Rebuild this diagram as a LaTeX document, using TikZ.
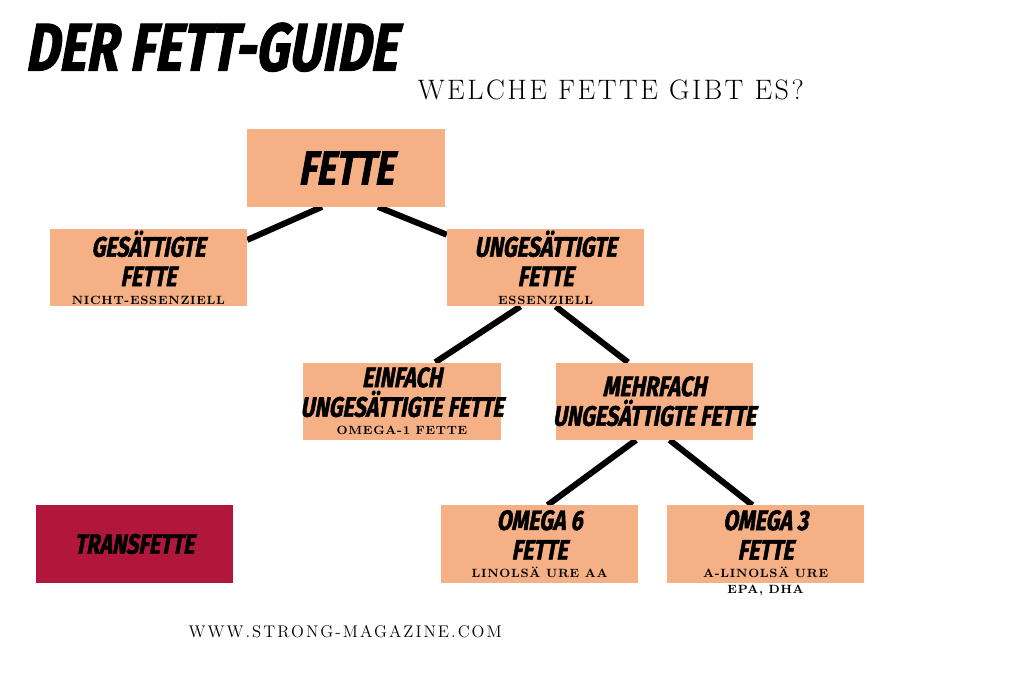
\documentclass[tikz,border=0pt]{standalone}
\usepackage{fontspec}
\usetikzlibrary{backgrounds}
\newfontfamily\comicfont[FakeStretch=0.76, FakeSlant=0.18, FakeBold=1.6]{Fira Sans}
\newfontfamily\spacedfont[LetterSpace=9]{Latin Modern Roman}
\newfontfamily\subfont[LetterSpace=6]{Latin Modern Roman}
\newfontfamily\urlfont[LetterSpace=12]{Latin Modern Roman}
\newcommand\subtxt[1]{{\subfont\bfseries\upshape\fontsize{8.5}{9}\selectfont #1}}
\newcommand\wideline[1]{\makebox[4.9cm]{#1}}
\definecolor{peach}{HTML}{F5B085}
\definecolor{wine}{HTML}{B0173A}
\begin{document}
\begin{tikzpicture}[
    fettbox/.style={fill=peach, minimum width=4.93cm, minimum height=1.93cm, align=center, inner sep=0pt, font=\comicfont\bfseries\fontsize{20}{21}\selectfont},
    link/.style={line width=4.3pt, black}
]
\useasboundingbox (0,0) rectangle (25.6,-16.9);
% Titel
\node[anchor=west, inner sep=0pt, font=\comicfont\bfseries\fontsize{48}{50}\selectfont] (title) at (0.62,-1.18) {DER FETT-GUIDE};
\node[inner sep=0pt, font=\spacedfont\fontsize{20}{22}\selectfont] (subtitle) at (15.27,-2.25) {WELCHE FETTE GIBT ES?};

% Baum
\node[fettbox, font=\comicfont\bfseries\fontsize{34}{36}\selectfont] (fette) at (8.65,-4.2) {FETTE};
\node[fettbox] (gesaettigt) at (3.71,-6.69) {GESÄTTIGTE\\FETTE\\[-8pt]\subtxt{NICHT-ESSENZIELL}};
\node[fettbox] (ungesaettigt) at (13.64,-6.69) {UNGESÄTTIGTE\\FETTE\\[-8pt]\subtxt{ESSENZIELL}};
\node[fettbox] (einfach) at (10.05,-10.03) {EINFACH\\\wideline{UNGESÄTTIGTE FETTE}\\[-8pt]\subtxt{OMEGA-1 FETTE}};
\node[fettbox] (mehrfach) at (16.36,-10.03) {MEHRFACH\\\wideline{UNGESÄTTIGTE FETTE}};
\node[fettbox] (omega6) at (13.49,-13.6) {OMEGA 6\\FETTE\\[-8pt]\subtxt{LINOLSÄ URE AA}};
\node[fettbox] (omega3) at (19.14,-13.6) {OMEGA 3\\FETTE\\[-8pt]{\subfont\bfseries\upshape\fontsize{8.5}{11}\selectfont\smash{\begin{tabular}[t]{@{}c@{}}A-LINOLSÄ URE\\EPA, DHA\end{tabular}}}};
\node[fettbox, fill=wine] (trans) at (3.36,-13.6) {TRANSFETTE};

% Verbindungen
\begin{scope}[on background layer]
\draw[link] ([xshift=-0.6cm]fette.south) -- ([yshift=-0.28cm]gesaettigt.north east);
\draw[link] ([xshift=0.8cm]fette.south) -- ([yshift=-0.15cm]ungesaettigt.north west);
\draw[link] ([xshift=-0.63cm]ungesaettigt.south) -- ([xshift=0.83cm]einfach.north);
\draw[link] ([xshift=0.25cm]ungesaettigt.south) -- ([xshift=-0.66cm]mehrfach.north);
\draw[link] ([xshift=-0.46cm]mehrfach.south) -- ([xshift=0.2cm]omega6.north);
\draw[link] ([xshift=0.38cm]mehrfach.south) -- ([xshift=-0.33cm]omega3.north);
\end{scope}

% Quelle
\node[inner sep=0pt, font=\urlfont\fontsize{12}{14}\selectfont] (url) at (8.63,-15.8) {WWW.STRONG-MAGAZINE.COM};
\end{tikzpicture}
\end{document}
